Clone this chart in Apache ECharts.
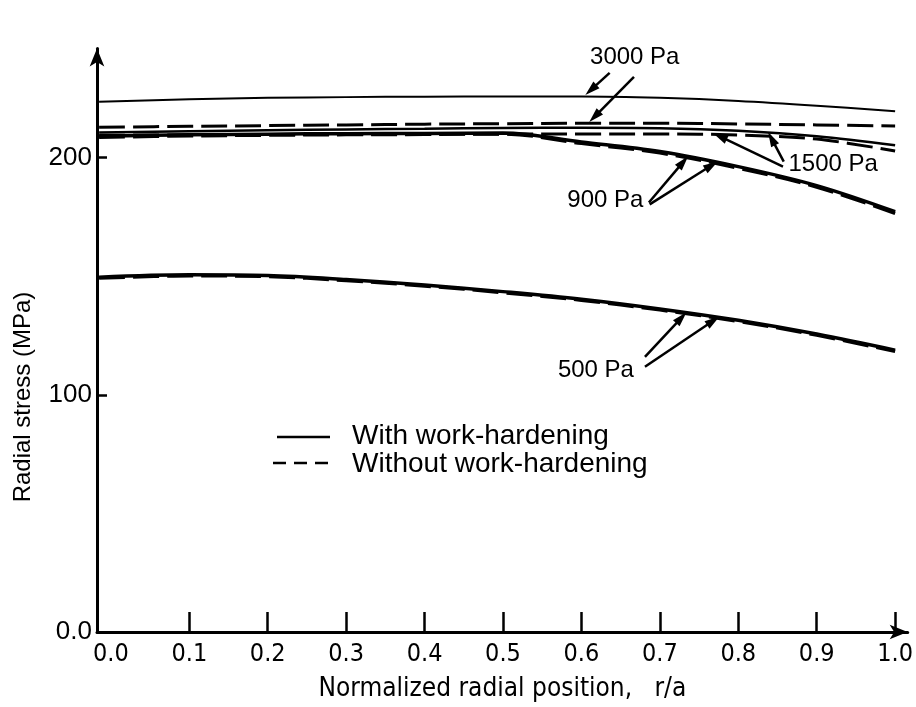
<!DOCTYPE html>
<html>
<head>
<meta charset="utf-8">
<script src="https://cdn.jsdelivr.net/npm/echarts@6/dist/echarts.min.js"></script>
<style>
  html, body { margin: 0; padding: 0; background: #fff; }
  #chart { width: 916px; height: 707px; }
</style>
</head>
<body>
<div id="chart"></div>
<script>
// normalized radial position r/a (first point sits on the y axis line)
const radialPos = [-0.015, 0.1, 0.2, 0.3, 0.4, 0.5, 0.6, 0.7, 0.8, 0.9, 1.0];
// radial stress, MPa
const p3000Hard = [223.6, 224.6, 225.2, 225.5, 225.7, 225.8, 225.8, 225.2, 223.9, 221.9, 219.5];
const p3000Soft = [212.8, 213.2, 213.5, 213.8, 214.1, 214.3, 214.5, 214.5, 214.2, 213.8, 213.3];
const p1500Hard = [210.6, 211.1, 211.5, 211.9, 212.2, 212.5, 212.6, 212.4, 211.3, 209.0, 205.2];
const p1500Soft = [209.4, 209.6, 209.7, 209.8, 209.9, 210.0, 210.0, 210.0, 209.5, 207.8, 202.8];
const p900Hard = [209.0, 209.6, 209.9, 210.1, 210.2, 210.4, 206.6, 202.6, 196.2, 188.2, 177.2];
const p900Soft = [208.6, 209.2, 209.5, 209.7, 209.8, 210.0, 206.0, 202.0, 195.6, 187.6, 176.5];
const p500Hard = [149.6, 150.6, 150.3, 148.6, 146.3, 143.5, 140.3, 136.2, 131.4, 125.6, 118.8];
const p500Soft = [149.2, 150.2, 149.9, 148.2, 145.9, 143.1, 139.9, 135.8, 131.0, 125.2, 118.3];

const xTicks = [0.1, 0.2, 0.3, 0.4, 0.5, 0.6, 0.7, 0.8, 0.9, 1.0];
const xLabels = [0, 0.1, 0.2, 0.3, 0.4, 0.5, 0.6, 0.7, 0.8, 0.9, 1.0];
const yTicks = [100, 200];
const yLabels = [0, 100, 200];

const legendNames = ["With work-hardening", "Without work-hardening"];

// pressure labels with arrows, in data coordinates
const notes = [
  { text: "3000 Pa", at: [0.668, 242.4], align: "center",
    arrows: [[[0.636, 235.7], [0.605, 226.4]], [[0.667, 234.0], [0.610, 215.0]]] },
  { text: "1500 Pa", at: [0.864, 197.0], align: "left",
    arrows: [[[0.857, 196.2], [0.768, 210.3]], [[0.858, 198.3], [0.838, 210.8]]] },
  { text: "900 Pa", at: [0.679, 181.9], align: "right",
    arrows: [[[0.686, 181.1], [0.736, 200.6]], [[0.687, 180.3], [0.774, 198.4]]] },
  { text: "500 Pa", at: [0.667, 110.5], align: "right",
    arrows: [[[0.681, 116.0], [0.734, 134.8]], [[0.681, 111.8], [0.776, 133.0]]] }
];

const FONT = "Liberation Sans, Arial, Helvetica, sans-serif";
const NARROW = "Liberation Sans Narrow, DejaVu Sans Condensed, Arial Narrow, sans-serif";

function pairs(ys) {
  return radialPos.map((x, i) => [x, ys[i]]);
}

function line(ys, dashed, width) {
  return {
    type: "line",
    data: pairs(ys),
    smooth: 0.35,
    symbol: "none",
    silent: true,
    lineStyle: {
      color: "#000",
      width: width,
      type: dashed ? [26, 8] : "solid",
      cap: "butt"
    },
    z: dashed ? 3 : 2
  };
}

var chart = echarts.init(document.getElementById("chart"));

var option = {
  backgroundColor: "#fff",
  animation: false,
  grid: { left: 97, right: 3, top: 48.5, bottom: 73 },
  xAxis: {
    type: "value",
    min: -0.0177,
    max: 1.016,
    name: "Normalized radial position,   r/a",
    nameLocation: "middle",
    nameGap: 44,
    nameTextStyle: { fontFamily: NARROW, fontSize: 26, color: "#000" },
    axisLine: { onZero: false, lineStyle: { color: "#000", width: 3 }, symbol: ["none", "arrow"], symbolSize: [11, 18] },
    axisTick: { inside: true, length: 20, lineStyle: { color: "#000", width: 2.5 }, customValues: xTicks },
    axisLabel: {
      customValues: xLabels,
      formatter: v => v.toFixed(1),
      fontFamily: NARROW, fontSize: 25, color: "#000", margin: 10
    },
    splitLine: { show: false }
  },
  yAxis: {
    type: "value",
    min: 0,
    max: 246,
    axisLine: { show: true, onZero: false, lineStyle: { color: "#000", width: 3 }, symbol: ["none", "arrow"], symbolSize: [11, 18] },
    axisTick: { show: true, inside: true, length: 10, lineStyle: { color: "#000", width: 2.5 }, customValues: yTicks },
    axisLabel: {
      customValues: yLabels,
      formatter: v => (v === 0 ? "0.0" : String(v)),
      fontFamily: FONT, fontSize: 26, color: "#000", margin: 5
    },
    splitLine: { show: false }
  },
  series: [
    line(p3000Hard, false, 2),
    line(p3000Soft, true, 3),
    line(p1500Hard, false, 2.5),
    line(p1500Soft, true, 3),
    line(p900Hard, false, 3.5),
    line(p900Soft, true, 3.5),
    line(p500Hard, false, 3.5),
    line(p500Soft, true, 3.5)
  ]
};

chart.setOption(option);

// annotations, legend and y axis title drawn on top
function buildGraphics() {
  var g = [];
  notes.forEach(function (n) {
    var p = chart.convertToPixel({ gridIndex: 0 }, n.at);
    g.push({
      type: "text", x: p[0], y: p[1], silent: true,
      style: { text: n.text, fill: "#000", font: "24px " + FONT, align: n.align, verticalAlign: "middle" }
    });
    n.arrows.forEach(function (a) {
      var s = chart.convertToPixel({ gridIndex: 0 }, a[0]);
      var t = chart.convertToPixel({ gridIndex: 0 }, a[1]);
      var dx = t[0] - s[0], dy = t[1] - s[1];
      var len = Math.sqrt(dx * dx + dy * dy);
      var ux = dx / len, uy = dy / len;
      var hl = 15, hw = 4.5;
      var bx = t[0] - ux * hl, by = t[1] - uy * hl;
      g.push({
        type: "line", silent: true,
        shape: { x1: s[0], y1: s[1], x2: bx + ux * 3, y2: by + uy * 3 },
        style: { stroke: "#000", lineWidth: 2.5 }
      });
      g.push({
        type: "polygon", silent: true,
        shape: { points: [[t[0], t[1]], [bx - uy * hw, by + ux * hw], [bx + uy * hw, by - ux * hw]] },
        style: { fill: "#000" }
      });
    });
  });

  // legend
  g.push({ type: "line", silent: true, shape: { x1: 277, y1: 437, x2: 330, y2: 437 },
    style: { stroke: "#000", lineWidth: 2.5 } });
  g.push({ type: "line", silent: true, shape: { x1: 273, y1: 463, x2: 330, y2: 463 },
    style: { stroke: "#000", lineWidth: 2.5, lineDash: [13, 8] } });
  g.push({ type: "text", x: 352, y: 436, silent: true,
    style: { text: legendNames[0], fill: "#000", font: "28px " + FONT, verticalAlign: "middle" } });
  g.push({ type: "text", x: 352, y: 464, silent: true,
    style: { text: legendNames[1], fill: "#000", font: "28px " + FONT, verticalAlign: "middle" } });

  // y axis title
  g.push({ type: "text", x: 23, y: 397, rotation: Math.PI / 2, silent: true,
    style: { text: "Radial stress (MPa)", fill: "#000", font: "24px " + FONT, align: "center", verticalAlign: "middle" } });
  return g;
}

chart.setOption({ graphic: buildGraphics() });
</script>
</body>
</html>
